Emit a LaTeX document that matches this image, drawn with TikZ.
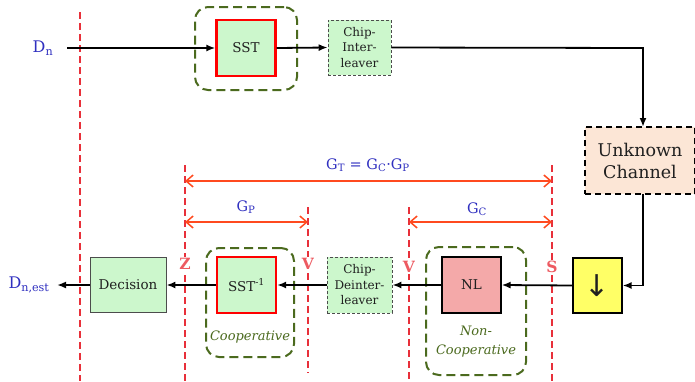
\documentclass[tikz,border=0pt]{standalone}
\usepackage{fontspec}
\setmainfont{DejaVu Serif}
\newfontfamily\symfont{DejaVu Sans}
\usetikzlibrary{arrows.meta}
\definecolor{boxgreen}{HTML}{CCF7CC}
\definecolor{boxpink}{HTML}{F4A9A9}
\definecolor{boxyellow}{HTML}{FFFF66}
\definecolor{chanfill}{HTML}{FCE6D6}
\definecolor{grpgreen}{HTML}{4B6A1E}
\definecolor{dimred}{HTML}{FF4A1F}
\definecolor{cutred}{HTML}{E8303A}
\definecolor{lblblue}{HTML}{3030C0}
\definecolor{txtgray}{HTML}{202020}
\tikzset{
  blk/.style={draw=black, line width=1.2pt, minimum width=59pt, minimum height=56pt, inner sep=0pt, font=\fontsize{13.5}{15}\selectfont, text=txtgray},
  sstbox/.style={blk, draw=red, line width=2.2pt, fill=boxgreen},
  decbox/.style={blk, draw=black!70, line width=0.8pt, fill=boxgreen},
  chipbox/.style={draw=black!70, densely dashed, line width=0.7pt, fill=boxgreen, minimum width=63pt, minimum height=55pt, inner sep=0pt, align=center, font=\fontsize{12}{15.5}\selectfont, text=txtgray},
  grp/.style={draw=grpgreen, dash pattern=on 9pt off 5pt, line width=2pt, rounded corners=13pt, inner sep=0pt},
  grplbl/.style={text=grpgreen, font=\itshape\fontsize{13}{19}\selectfont, align=center},
  cut/.style={draw=cutred, dash pattern=on 7pt off 4pt, line width=1.2pt},
  cutlbl/.style={text=cutred!80, fill=white, inner sep=1pt, font=\bfseries\fontsize{15.5}{17}\selectfont},
  dim/.style={draw=dimred, line width=1.5pt, {Straight Barb[length=7pt,width=12pt,line width=1.5pt]}-{Straight Barb[length=7pt,width=12pt,line width=1.5pt]}},
  dimlbl/.style={text=lblblue, font=\fontsize{14.5}{17}\selectfont},
  flow/.style={draw=black, line width=1.8pt, -{Latex[length=9pt,width=7pt]}},
  iolbl/.style={text=lblblue, font=\fontsize{16}{18}\selectfont},
}
\begin{document}
\begin{tikzpicture}[x=1pt,y=-1pt]
\useasboundingbox[fill=white] (0,0) rectangle (695,381);

% cut lines
\coordinate (c1t) at (80,12);   \coordinate (c1b) at (80,381);
\coordinate (c2t) at (185,165); \coordinate (c2b) at (185,381);
\coordinate (c3t) at (308,207); \coordinate (c3b) at (308,373);
\coordinate (c4t) at (409,207); \coordinate (c4b) at (409,381);
\coordinate (c5t) at (552,165); \coordinate (c5b) at (552,381);
\draw[cut] (c1t) -- (c1b);
\draw[cut] (c2t) -- (c2b);
\draw[cut] (c3t) -- (c3b);
\draw[cut] (c4t) -- (c4b);
\draw[cut] (c5t) -- (c5b);

% groups
\node[grp, minimum width=102pt, minimum height=83pt] (g1) at (246,48.5) {};
\node[grp, minimum width=88pt, minimum height=109pt] (g2) at (250,302.5) {};
\node[grp, minimum width=100pt, minimum height=128pt] (g3) at (476,311) {};

% blocks
\node[sstbox] (sst) at (246,48) {SST};
\node[chipbox] (cil) at (359.5,47.5) {Chip-\\Inter-\\leaver};
\node[draw=black, dash pattern=on 6pt off 4pt, line width=1.5pt, fill=chanfill, minimum width=110pt, minimum height=67pt, align=center, font=\fontsize{17.5}{22}\selectfont, text=txtgray] (ch) at (640,160.5) {Unknown\\Channel};
\node[blk, fill=boxyellow, minimum width=49pt, minimum height=55pt] (ds) at (597.5,285.5) {\symfont\fontsize{30}{30}\selectfont ↓};
\node[blk, fill=boxpink] (nl) at (471.5,285) {NL};
\node[chipbox, minimum width=65pt, minimum height=56pt] (cdl) at (359.5,285) {Chip-\\Deinter-\\leaver};
\node[sstbox] (isst) at (246.5,285) {SST\textsuperscript{-1}};
\node[decbox, minimum width=76pt, minimum height=55pt] (dec) at (128,285) {Decision};

% group labels
\node[grplbl] (coop) at (250,337) {Cooperative};
\node[grplbl] (ncoop) at (476,342) {Non-\\Cooperative};

% io labels
\node[iolbl] (dn) at (43,48) {D\textsubscript{n}};
\node[iolbl] (dnest) at (29,285) {D\textsubscript{n,est}};
\coordinate (dnr) at (67,48);
\coordinate (dnl) at (57,285);
\coordinate (corner1) at (643,48);
\coordinate (chin) at (643,127);
\coordinate (chout) at (643,194);
\coordinate (corner2) at (643,285.5);

% flow
\draw[flow] (dnr) -- (sst.west);
\draw[flow] (sst.east) -- (cil.west);
\draw[flow] (cil.east) -- (corner1) -- (chin);
\draw[flow] (chout) -- (corner2) -- (ds.east);
\draw[flow] (ds.west) -- (nl.east);
\draw[flow] (nl.west) -- (cdl.east);
\draw[flow] (cdl.west) -- (isst.east);
\draw[flow] (isst.west) -- (dec.east);
\draw[flow] (dec.west) -- (dnl);

% cut labels
\node[cutlbl] (z) at (185,264) {Z};
\node[cutlbl] (v1) at (308,264) {V};
\node[cutlbl] (v2) at (409,267) {V};
\node[cutlbl] (s) at (552,267) {S};

% dimensions
\coordinate (gta) at (185,181); \coordinate (gtb) at (552,181);
\coordinate (gpa) at (185,222); \coordinate (gpb) at (308,222);
\coordinate (gca) at (409,222); \coordinate (gcb) at (552,222);
\draw[dim] (gta) -- (gtb);
\draw[dim] (gpa) -- (gpb);
\draw[dim] (gca) -- (gcb);
\node[dimlbl] (gt) at (368,165) {G\textsubscript{T} = G\textsubscript{C}·G\textsubscript{P}};
\node[dimlbl] (gp) at (246,207) {G\textsubscript{P}};
\node[dimlbl] (gc) at (477,209) {G\textsubscript{C}};
\end{tikzpicture}
\end{document}
